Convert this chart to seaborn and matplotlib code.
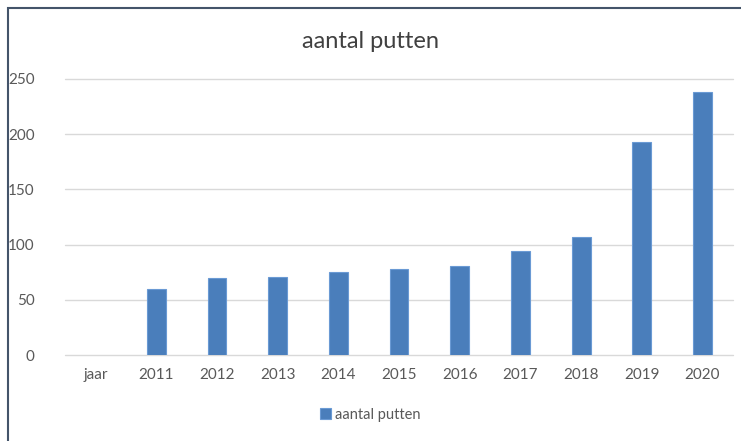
import numpy as np
import pandas as pd
import matplotlib
matplotlib.use("Agg")
import matplotlib.pyplot as plt
import seaborn as sns
from matplotlib.patches import Rectangle

# data
categories = ["jaar", "2011", "2012", "2013", "2014", "2015",
              "2016", "2017", "2018", "2019", "2020"]
putten = [np.nan, 60, 70, 71, 75, 78, 81, 94, 107, 193, 238]
serie = "aantal putten"
yticks = [0, 50, 100, 150, 200, 250]

df = pd.DataFrame({"jaar": categories, "putten": putten, "serie": serie})

sns.set_theme(style="white")
plt.rcParams["font.family"] = ["Lato", "DejaVu Sans"]

fig = plt.figure(figsize=(7.41, 4.41), dpi=100)
ax = fig.add_axes([0.088, 0.195, 0.901, 0.626])

sns.barplot(data=df, x="jaar", y="putten", hue="serie", order=categories,
            palette=["#4a7ebb"], saturation=1, width=0.31,
            edgecolor="#6a9ad4", linewidth=0.8, ax=ax, errorbar=None)

ax.set_ylim(0, 250)
ax.set_yticks(yticks)
ax.set_xlim(-0.5, len(categories) - 0.5)
ax.yaxis.grid(True, color="#d9d9d9", linewidth=1)
for gl in ax.get_ygridlines():
    gl.set_clip_on(False)
ax.set_axisbelow(True)
for s in ax.spines.values():
    s.set_visible(False)
ax.set_xlabel("")
ax.set_ylabel("")
ax.tick_params(axis="both", length=0, labelsize=11, colors="#595959")
ax.tick_params(axis="y", pad=22)
ax.tick_params(axis="x", pad=9)

fig.text(0.5, 0.905, "aantal putten", ha="center", va="center",
         fontsize=17, color="#404040")

sns.move_legend(ax, "center", bbox_to_anchor=(0.5, 0.06),
                bbox_transform=fig.transFigure, frameon=False, title=None,
                fontsize=10.5, handlelength=0.7, handleheight=0.7,
                handletextpad=0.3)
for t in ax.get_legend().get_texts():
    t.set_color("#595959")

# outer chart frame
fig.patches.append(Rectangle((8 / 741, -0.1), 1.2, 1.1 - 8 / 441,
                             transform=fig.transFigure, fill=False,
                             edgecolor="#44546a", linewidth=1.5))

fig.savefig("out.png", dpi=100)
